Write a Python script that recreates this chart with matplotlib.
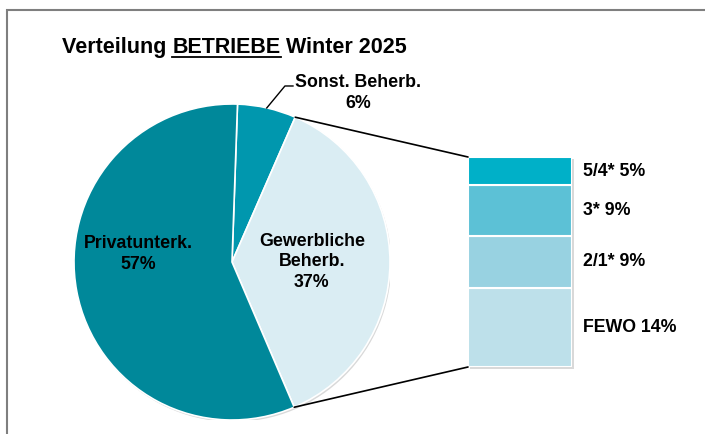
import numpy as np
import matplotlib.pyplot as plt
from matplotlib.patches import Rectangle, ConnectionPatch, Circle
from matplotlib.lines import Line2D

# Daten
pie_labels = ["Sonst. Beherb.", "Gewerbliche\nBeherb.", "Privatunterk."]
pie_values = [6, 37, 57]
pie_colors = ["#0097AE", "#DAEDF3", "#00889A"]

bar_labels = ["FEWO", "2/1*", "3*", "5/4*"]
bar_values = [14, 9, 9, 5]
bar_colors = ["#BDE0EA", "#98D2E1", "#5CC1D6", "#00B0C8"]

W, H = 705, 434
FS = 12.8
LS = 1.25
plt.rcParams['font.family'] = ['Liberation Sans', 'DejaVu Sans']

fig = plt.figure(figsize=(W / 100, H / 100), dpi=100)


def px(x0, y0, x1, y1):
    # Bildpixel (oben links) -> Figure-Anteile
    return [x0 / W, 1 - y1 / H, (x1 - x0) / W, (y1 - y0) / H]


# Rahmen
fig.add_artist(Rectangle((7 / W, -0.1), 1.2, 1.1 - 10 / H, transform=fig.transFigure,
                         fill=False, edgecolor="#7f7f7f", linewidth=1.5))

# Titel mit unterstrichenem Wort
ty = 1 - 53 / H
t1 = fig.text(62 / W, ty, "Verteilung ", fontsize=15.5, fontweight="bold", va="baseline")
fig.canvas.draw()
r = fig.canvas.get_renderer()
bb = t1.get_window_extent(r)
t2 = fig.text(bb.x1 / W, ty, "BETRIEBE", fontsize=15.5, fontweight="bold", va="baseline")
bb2 = t2.get_window_extent(r)
fig.text(bb2.x1 / W, ty, " Winter 2025", fontsize=15.5, fontweight="bold", va="baseline")
uy = 1 - 56.5 / H
fig.add_artist(Line2D([bb2.x0 / W, bb2.x1 / W], [uy, uy], transform=fig.transFigure,
                      color="black", linewidth=1.3))

# Kreis
ax_pie = fig.add_axes(px(74, 104, 390, 420))
# leichter Schatten
ax_pie.add_patch(Circle((0.008, -0.012), 1.0, facecolor="#d9d9d9", edgecolor="none", zorder=0))
start = 88
wedges, _ = ax_pie.pie(pie_values, colors=pie_colors, startangle=start, counterclock=False,
                       wedgeprops=dict(edgecolor="white", linewidth=1.2))
ax_pie.set_xlim(-1, 1)
ax_pie.set_ylim(-1, 1)
ax_pie.set_aspect("equal")
ax_pie.axis("off")

ax_pie.text(-0.595, 0.05, pie_labels[2] + "\n" + f"{pie_values[2]}%", ha="center", va="center",
            fontsize=FS, fontweight="bold", linespacing=LS)
ax_pie.text(0.506, 0.0, pie_labels[1] + "\n" + f"{pie_values[1]}%", ha="center", va="center",
            fontsize=FS, fontweight="bold", linespacing=LS)
ax_pie.text(0.80, 1.07, pie_labels[0] + "\n" + f"{pie_values[0]}%", ha="center", va="center",
            fontsize=FS, fontweight="bold", linespacing=LS, clip_on=False)
ax_pie.plot([0.22, 0.335, 0.386], [0.975, 1.114, 1.114], color="black", linewidth=1,
            clip_on=False)

# Balken
ax_bar = fig.add_axes(px(468, 157, 572, 367))
total = sum(bar_values)
ax_bar.add_patch(Rectangle((-0.48, -0.4), 1.0, total, facecolor="#d9d9d9", edgecolor="none",
                           zorder=0, clip_on=False))
bottom = 0
for lab, val, col in zip(bar_labels, bar_values, bar_colors):
    ax_bar.bar(0, val, bottom=bottom, width=1, color=col, edgecolor="white", linewidth=1.5)
    ax_bar.text(0.61, bottom + val / 2, f"{lab} {val}%", ha="left", va="center",
                fontsize=FS, fontweight="bold", clip_on=False)
    bottom += val
ax_bar.set_xlim(-0.5, 0.5)
ax_bar.set_ylim(0, total)
ax_bar.axis("off")

# Verbindungslinien
a_top = np.deg2rad(start - 360 * pie_values[0] / 100)
a_bot = np.deg2rad(start - 360 * (pie_values[0] + pie_values[1]) / 100)
for ang, yb in [(a_top, total), (a_bot, 0)]:
    con = ConnectionPatch(xyA=(np.cos(ang), np.sin(ang)), coordsA=ax_pie.transData,
                          xyB=(-0.5, yb), coordsB=ax_bar.transData,
                          color="black", linewidth=1.2)
    fig.add_artist(con)

fig.savefig("out.png", dpi=100)
